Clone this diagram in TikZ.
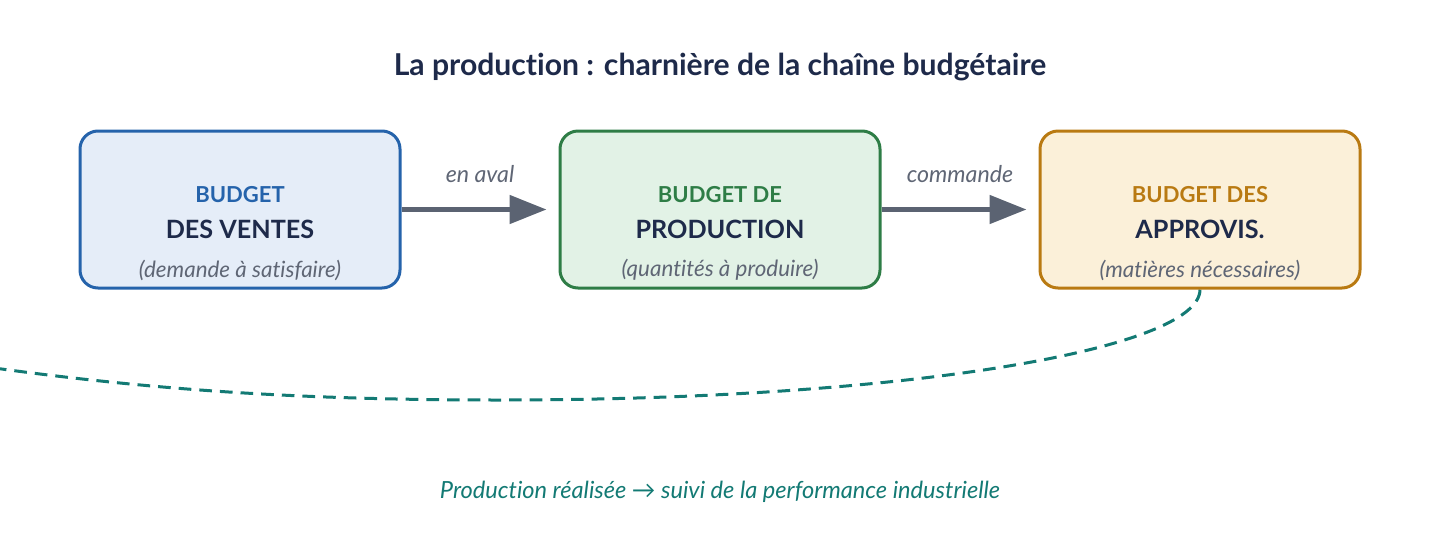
\documentclass[tikz,border=0pt]{standalone}
\usepackage{fontspec}
\setmainfont[Ligatures={NoCommon,NoRare}]{Lato}
\usetikzlibrary{arrows.meta,backgrounds}
\definecolor{navy}{HTML}{1E2A4A}
\definecolor{blueB}{HTML}{2563AB}
\definecolor{blueF}{HTML}{E5EDF8}
\definecolor{greenB}{HTML}{2E7D46}
\definecolor{greenF}{HTML}{E2F2E6}
\definecolor{orangeB}{HTML}{B97A12}
\definecolor{orangeF}{HTML}{FBF0D9}
\definecolor{grayT}{HTML}{5F6675}
\definecolor{arrowG}{HTML}{5B6372}
\definecolor{teal}{HTML}{137A74}
\tikzset{
  x=0.75pt, y=-0.75pt,
  budgetbox/.style={draw, line width=2.25pt, rounded corners=13.5pt, minimum width=240pt, minimum height=117.75pt, inner sep=0pt},
  toptext/.style={font=\bfseries\fontsize{16.5}{19}\selectfont},
  maintext/.style={font=\bfseries\fontsize{18.9}{22}\selectfont, text=navy},
  subtext/.style={font=\itshape\fontsize{16.8}{19}\selectfont, text=grayT},
  flowarrow/.style={draw=arrowG, line width=3.75pt, -{Triangle[length=27.75pt, width=21pt]}, shorten >=9pt},
  arrowlabel/.style={font=\itshape\fontsize{17.4}{20}\selectfont, text=grayT},
  feedback/.style={draw=teal, line width=2.25pt, dash pattern=on 9.5pt off 6pt},
}
\begin{document}
\begin{tikzpicture}
\useasboundingbox (0,0) rectangle (1440,540);
\node[font=\bfseries\fontsize{22.6}{26}\selectfont, text=navy] (title) at (720,67) {La production : charnière de la chaîne budgétaire};

\node[budgetbox, draw=blueB, fill=blueF] (ventes) at (240,209.5) {};
\node[budgetbox, draw=greenB, fill=greenF] (prod) at (720,209.5) {};
\node[budgetbox, draw=orangeB, fill=orangeF] (appro) at (1200,209.5) {};

\node[toptext, text=blueB] (ventesA) at (240,195) {BUDGET};
\node[maintext] (ventesB) at (240,229) {DES VENTES};
\node[subtext] (ventesC) at (240,270) {(demande à satisfaire)};

\node[toptext, text=greenB] (prodA) at (720,195) {BUDGET DE};
\node[maintext] (prodB) at (720,229) {PRODUCTION};
\node[subtext] (prodC) at (720,270) {(quantités à produire)};

\node[toptext, text=orangeB] (approA) at (1200,195) {BUDGET DES};
\node[maintext] (approB) at (1200,229) {APPROVIS.};
\node[subtext] (approC) at (1200,270) {(matières nécessaires)};

\draw[flowarrow] (ventes.east) -- (prod.west);
\draw[flowarrow] (prod.east) -- (appro.west);
\node[arrowlabel] (lab1) at (480,174) {en aval};
\node[arrowlabel] (lab2) at (960,174) {commande};

\coordinate (loopmid) at (500,400);
\coordinate (loopend) at (-20,366);
\begin{scope}[on background layer]
\clip (0,0) rectangle (1440,540);
\draw[feedback] (appro.south) .. controls (1200,350) and (900,400) .. (loopmid)
  .. controls (300,400) and (150,390) .. (loopend);
\end{scope}

\node[font=\itshape\fontsize{17.7}{21}\selectfont, text=teal] (bottom) at (720,492) {Production réalisée → suivi de la performance industrielle};
\end{tikzpicture}
\end{document}
